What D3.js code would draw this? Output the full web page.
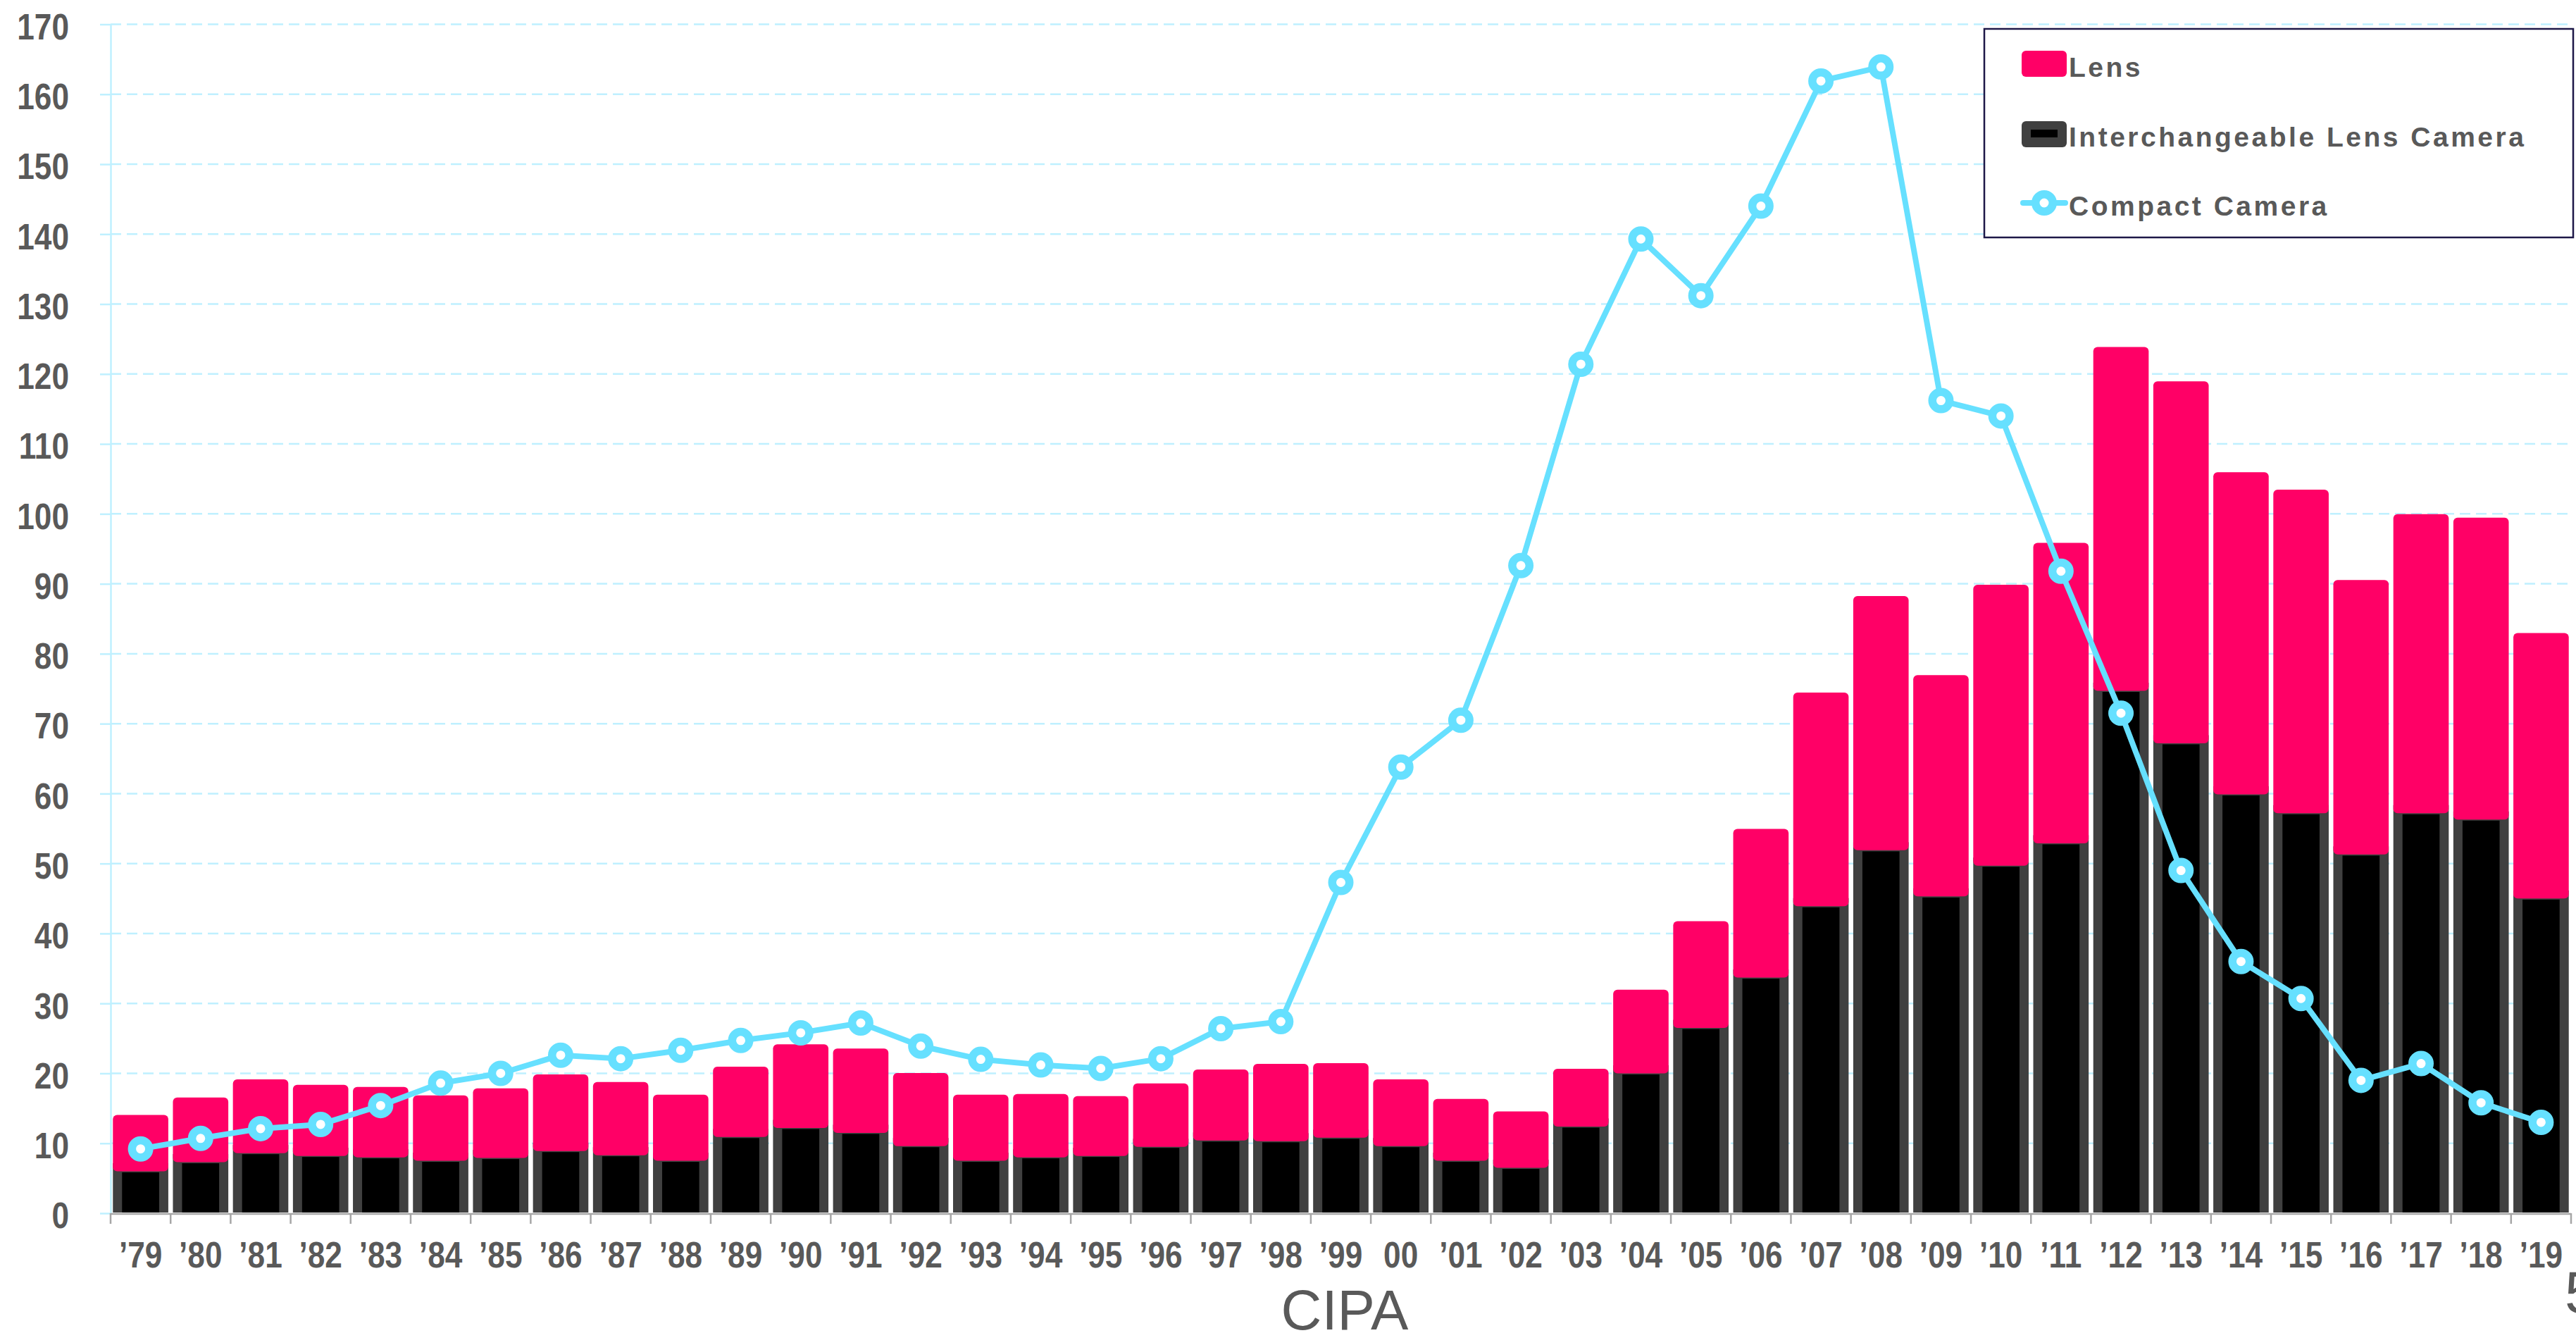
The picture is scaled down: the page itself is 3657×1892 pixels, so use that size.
<!DOCTYPE html>
<html>
<head>
<meta charset="utf-8">
<script src="https://cdn.jsdelivr.net/npm/d3@7"></script>
<style>
  html, body { margin: 0; padding: 0; background: #fff; overflow: hidden; }
  svg { display: block; }
</style>
</head>
<body>
<svg id="chart"></svg>
<script>
// years on the x axis (2000 is written without the apostrophe in the original)
const years = ["’79","’80","’81","’82","’83","’84","’85","’86","’87","’88","’89","’90","’91","’92","’93","’94","’95","’96","’97","’98","’99","00",
               "’01","’02","’03","’04","’05","’06","’07","’08","’09","’10","’11","’12","’13","’14","’15","’16","’17","’18","’19"];

// interchangeable lens camera (bottom of stack)
const ilc = [6.5, 7.8, 9.1, 8.7, 8.5, 8.0, 8.4, 9.4, 8.8, 8.0, 11.4, 12.7, 12.0, 10.1, 8.0, 8.5, 8.7, 10.0, 10.9, 10.8, 11.3, 10.1,
             8.0, 7.0, 12.9, 20.5, 27.0, 34.2, 44.4, 52.4, 45.8, 50.2, 53.4, 75.2, 67.7, 60.4, 57.7, 51.8, 57.7, 56.8, 45.5];

// lens (stacked on top)
const lens = [7.2, 8.4, 9.7, 9.3, 9.2, 8.5, 9.1, 10.1, 9.6, 8.6, 9.2, 11.1, 11.2, 9.6, 8.6, 8.2, 7.7, 8.2, 9.3, 10.2, 9.8, 8.7,
              8.0, 7.2, 7.4, 11.1, 14.4, 20.4, 29.7, 35.5, 30.8, 39.3, 42.1, 48.3, 50.9, 45.2, 45.4, 38.4, 41.9, 42.3, 37.1];

// compact camera (line)
const compact = [9.2, 10.7, 12.1, 12.7, 15.4, 18.6, 20.0, 22.6, 22.1, 23.3, 24.7, 25.8, 27.2, 23.9, 22.0, 21.2, 20.7, 22.1, 26.4, 27.4, 47.3, 63.8,
                 70.5, 92.6, 121.4, 139.3, 131.2, 144.0, 161.9, 163.9, 116.2, 114.0, 91.8, 71.5, 49.0, 36.0, 30.7, 19.0, 21.4, 15.8, 13.0];

const yTicks = d3.range(0, 171, 10);
const legendLabels = ["Lens", "Interchangeable Lens Camera", "Compact Camera"];

const width = 3657;
const height = 1892;

const PINK = "#FF0066";
const DARK = "#404040";
const CYAN = "#66E0FF";
const GRID = "#BFF0FF";
const TEXT = "#595959";
const FONT = "'Liberation Sans', Arial, sans-serif";

const svg = d3.select("#chart")
    .attr("width", width)
    .attr("height", height);

const plotLeft = 157, plotRight = 3650, plotTop = 34.5, plotBottom = 1722;

const x = d3.scaleBand()
    .domain(years)
    .range([plotLeft, plotRight])
    .paddingInner(0.077)
    .paddingOuter(0.0385);

const y = d3.scaleLinear()
    .domain([0, 170])
    .range([plotBottom, plotTop]);

const step = x.step();
const bw = x.bandwidth();
const edge = d => x(d) - step * x.paddingInner() / 2;

svg.append("defs").append("clipPath")
    .attr("id", "plotclip")
    .append("rect")
    .attr("x", 0).attr("y", 0)
    .attr("width", width).attr("height", plotBottom - 1);

// dashed gridlines
svg.append("g")
    .selectAll("line")
    .data(yTicks.filter(v => v > 0))
    .enter().append("line")
    .attr("x1", plotLeft).attr("x2", plotRight - 4)
    .attr("y1", d => y(d)).attr("y2", d => y(d))
    .attr("stroke", GRID)
    .attr("stroke-width", 2.5)
    .attr("stroke-dasharray", "15,8");

// y axis (line + short ticks + labels)
const yAxis = svg.append("g")
    .attr("transform", `translate(${plotLeft},0)`)
    .call(d3.axisLeft(y).tickValues(yTicks).tickSize(15).tickSizeOuter(0));
yAxis.select(".domain").attr("stroke", GRID).attr("stroke-width", 2.5);
yAxis.selectAll(".tick line").attr("stroke", GRID).attr("stroke-width", 2.5);
yAxis.selectAll("text")
    .attr("x", null)
    .attr("dy", "0.4em")
    .attr("transform", "translate(-59,0) scale(0.85,1)")
    .attr("text-anchor", "end")
    .style("font-family", FONT)
    .style("font-weight", "bold")
    .style("font-size", "52px")
    .attr("fill", TEXT);

// bars: camera body (black with thick dark-grey border), lens stacked on top
const bars = svg.append("g").attr("clip-path", "url(#plotclip)");

bars.selectAll(".cam")
    .data(years)
    .enter().append("rect")
    .attr("class", "cam")
    .attr("x", d => x(d) + 6.5)
    .attr("width", bw - 13)
    .attr("y", (d, i) => y(ilc[i]))
    .attr("height", (d, i) => y(0) - y(ilc[i]) + 10)
    .attr("fill", "#000")
    .attr("stroke", DARK)
    .attr("stroke-width", 13);

bars.selectAll(".lens")
    .data(years)
    .enter().append("rect")
    .attr("class", "lens")
    .attr("x", d => x(d))
    .attr("width", bw)
    .attr("y", (d, i) => y(ilc[i] + lens[i]) - 3.5)
    .attr("height", (d, i) => y(ilc[i]) - y(ilc[i] + lens[i]) + 8.5)
    .attr("rx", 6)
    .attr("fill", PINK);

// x axis
const xAxisG = svg.append("g").attr("transform", `translate(0,${plotBottom + 1})`);
xAxisG.append("line")
    .attr("x1", plotLeft).attr("x2", plotRight)
    .attr("stroke", "#A6A6A6").attr("stroke-width", 2.5);
xAxisG.selectAll(".edge")
    .data(years.concat(["end"]))
    .enter().append("line")
    .attr("class", "edge")
    .attr("x1", d => d === "end" ? plotRight : edge(d))
    .attr("x2", d => d === "end" ? plotRight : edge(d))
    .attr("y1", -1).attr("y2", 14)
    .attr("stroke", "#A6A6A6").attr("stroke-width", 2.5);

const xAxis = xAxisG.append("g")
    .call(d3.axisBottom(x).tickSize(0));
xAxis.select(".domain").remove();
xAxis.selectAll("text")
    .attr("y", 0)
    .attr("dy", null)
    .attr("transform", "translate(0,76) scale(0.85,1)")
    .style("font-family", FONT)
    .style("font-weight", "bold")
    .style("font-size", "52px")
    .attr("fill", TEXT);

// compact camera line
const cx = d => x(d) + bw / 2;
const line = d3.line()
    .x((d, i) => cx(years[i]))
    .y(d => y(d));

svg.append("path")
    .datum(compact)
    .attr("d", line)
    .attr("fill", "none")
    .attr("stroke", CYAN)
    .attr("stroke-width", 8)
    .attr("stroke-linejoin", "round");

svg.append("g")
    .selectAll("circle")
    .data(compact)
    .enter().append("circle")
    .attr("cx", (d, i) => cx(years[i]))
    .attr("cy", d => y(d))
    .attr("r", 12.25)
    .attr("fill", "#fff")
    .attr("stroke", CYAN)
    .attr("stroke-width", 11.5);

// legend
const legend = svg.append("g");
legend.append("rect")
    .attr("x", 2817).attr("y", 41)
    .attr("width", 836).attr("height", 296)
    .attr("fill", "#fff")
    .attr("stroke", "#1E1848")
    .attr("stroke-width", 2.5);

legend.append("rect")
    .attr("x", 2870).attr("y", 72).attr("width", 64).attr("height", 37)
    .attr("rx", 6).attr("fill", PINK);

legend.append("rect")
    .attr("x", 2870).attr("y", 172).attr("width", 64).attr("height", 37)
    .attr("rx", 6).attr("fill", DARK);
legend.append("rect")
    .attr("x", 2883).attr("y", 184).attr("width", 38).attr("height", 11)
    .attr("fill", "#000");

legend.append("line")
    .attr("x1", 2872).attr("x2", 2932)
    .attr("y1", 288).attr("y2", 288)
    .attr("stroke", CYAN).attr("stroke-width", 8)
    .attr("stroke-linecap", "round");
legend.append("circle")
    .attr("cx", 2902).attr("cy", 288).attr("r", 12.25)
    .attr("fill", "#fff").attr("stroke", CYAN).attr("stroke-width", 11.5);

legend.selectAll(".ltext")
    .data(legendLabels)
    .enter().append("text")
    .attr("class", "ltext")
    .attr("x", 2937)
    .attr("y", (d, i) => 109 + i * 98.5)
    .text(d => d)
    .style("font-family", FONT)
    .style("font-weight", "bold")
    .style("font-size", "39px")
    .style("letter-spacing", "3.5px")
    .attr("fill", TEXT);

// source and page number
svg.append("text")
    .attr("x", 1909).attr("y", 1887)
    .attr("text-anchor", "middle")
    .text("CIPA")
    .style("font-family", FONT)
    .style("font-size", "80px")
    .attr("fill", TEXT);

svg.append("text")
    .attr("x", 3641).attr("y", 1863)
    .text("5")
    .style("font-family", FONT)
    .style("font-size", "84px")
    .attr("fill", TEXT);
</script>
</body>
</html>
